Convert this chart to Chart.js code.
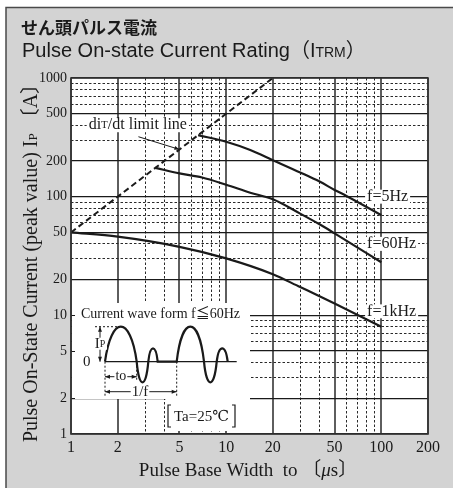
<!DOCTYPE html>
<html>
<head>
<meta charset="utf-8">
<script src="https://cdn.jsdelivr.net/npm/chart.js@4.4.1/dist/chart.umd.min.js"></script>
<style>
html, body { margin: 0; padding: 0; background: #fff; }
#wrap { width: 453px; height: 488px; }
</style>
</head>
<body>
<div id="wrap"><canvas id="c" width="453" height="488"></canvas></div>
<script>
// pulse base width (us) -> peak current (A)
const width5Hz = [6.6, 10, 14.3, 20, 30, 40, 50, 60, 100];
const peak5Hz = [330, 290, 247, 203, 160, 134, 114, 101, 70];
const width60Hz = [3.5, 5, 7, 10, 14.3, 20, 30, 40, 50, 100];
const peak60Hz = [175, 157, 145, 126, 108, 95, 72, 58.5, 49, 28];
const width1kHz = [1, 2, 5, 10, 20, 30, 40, 50, 100];
const peak1kHz = [50, 46, 37.8, 30.2, 22.2, 17.3, 14.5, 12.6, 8.0];
const limitWidth = [1, 20];
const limitPeak = [50, 1000];

const xTicks = [1, 2, 3, 4, 5, 6, 7, 8, 9, 10, 20, 30, 40, 50, 60, 70, 80, 90, 100, 200];
const xLabels = [1, 2, 5, 10, 20, 50, 100, 200];
const yTicks = [1, 2, 3, 4, 5, 6, 7, 8, 9, 10, 20, 30, 40, 50, 60, 70, 80, 90,
                100, 200, 300, 400, 500, 600, 700, 800, 900, 1000];
const yLabels = [1, 2, 5, 10, 20, 50, 100, 200, 500, 1000];

const curveNames = ['f=5Hz', 'f=60Hz', 'f=1kHz'];

const SERIF = "'Liberation Serif', 'DejaVu Serif', 'Noto Sans CJK JP', serif";
const SANS = "'Liberation Sans', Arial, 'Noto Sans CJK JP', sans-serif";
const INK = '#1a1a1a';

function pts(xs, ys) { return xs.map((x, i) => ({ x: x, y: ys[i] })); }

function drawParts(ctx, parts, x, y, align) {
  let total = 0;
  parts.forEach(p => { ctx.font = p[1]; total += ctx.measureText(p[0]).width; });
  let cx = align === 'center' ? x - total / 2 : x;
  ctx.textAlign = 'left';
  parts.forEach(p => {
    ctx.font = p[1];
    ctx.fillText(p[0], cx, y + (p[2] || 0));
    cx += ctx.measureText(p[0]).width;
  });
  return total;
}

function boxedLabel(ctx, parts, x, y) {
  ctx.textBaseline = 'middle';
  let w = 0;
  parts.forEach(p => { ctx.font = p[1]; w += ctx.measureText(p[0]).width; });
  ctx.fillStyle = '#fff';
  ctx.fillRect(x - 2, y - 7, w + 4, 14);
  ctx.fillStyle = INK;
  drawParts(ctx, parts, x, y, 'left');
}

function arrowHead(ctx, x, y, dx, dy) {
  const L = 5, W = 2;
  ctx.beginPath();
  ctx.moveTo(x, y);
  ctx.lineTo(x - dx * L - dy * W, y - dy * L + dx * W);
  ctx.lineTo(x - dx * L + dy * W, y - dy * L - dx * W);
  ctx.closePath();
  ctx.fill();
}

// inset waveform segments: [width px, amplitude fraction of Ip]
const waveSegs = [[31.7, 1], [11.6, -0.59], [9.4, 0.38], [19, 0], [27.3, 1], [12.7, -0.59], [11, 0.38]];

const decor = {
  id: 'decor',
  beforeDraw(chart) {
    const ctx = chart.ctx, a = chart.chartArea;
    ctx.save();
    ctx.fillStyle = '#fff';
    ctx.fillRect(0, 0, chart.width, chart.height);
    ctx.fillStyle = '#d3d3d3';
    ctx.fillRect(6, 7.5, chart.width - 6, chart.height - 7.5);
    ctx.strokeStyle = '#4a4a4a';
    ctx.lineWidth = 1.5;
    ctx.beginPath();
    ctx.moveTo(6, chart.height);
    ctx.lineTo(6, 7.5);
    ctx.lineTo(chart.width, 7.5);
    ctx.stroke();
    ctx.fillStyle = '#fff';
    ctx.fillRect(a.left, a.top, a.right - a.left, a.bottom - a.top);
    ctx.restore();
  },
  beforeDatasetsDraw(chart) {
    const ctx = chart.ctx, a = chart.chartArea;
    const xs = chart.scales.x, ys = chart.scales.y;
    ctx.save();

    // inset panel covers the grid
    ctx.fillStyle = '#fff';
    ctx.fillRect(a.left + 1, a.bottom - 131, 178, 96);
    ctx.fillRect(a.left + 95, a.bottom - 36, 84, 33);

    ctx.strokeStyle = INK;
    ctx.fillStyle = INK;
    ctx.lineWidth = 1;
    [10, 5, 2].forEach(v => {
      const py = Math.round(ys.getPixelForValue(v)) + 0.5;
      ctx.beginPath(); ctx.moveTo(a.left, py); ctx.lineTo(a.left + 4, py); ctx.stroke();
    });

    ctx.textBaseline = 'middle';
    ctx.font = '14px ' + SERIF;
    ctx.textAlign = 'left';
    ctx.fillText('Current wave form f\u226660Hz', a.left + 10, a.bottom - 120);

    const wx = a.left + 34, wy = a.bottom - 72.3, amp = 35;
    // zero line
    ctx.lineWidth = 1.2;
    ctx.beginPath(); ctx.moveTo(wx, wy); ctx.lineTo(wx + 131.7, wy); ctx.stroke();
    ctx.font = '15px ' + SERIF;
    ctx.textAlign = 'center';
    ctx.fillText('0', a.left + 15.7, wy);

    // waveform
    ctx.lineWidth = 2.2;
    ctx.beginPath();
    let cx = wx;
    ctx.moveTo(cx, wy);
    waveSegs.forEach(s => {
      const w = s[0], h = -s[1] * amp * 4 / 3;
      if (s[1] === 0) ctx.lineTo(cx + w, wy);
      else ctx.bezierCurveTo(cx + w * 0.2, wy + h, cx + w * 0.8, wy + h, cx + w, wy);
      cx += w;
    });
    ctx.stroke();

    // Ip dimension
    ctx.lineWidth = 1;
    ctx.setLineDash([2, 2]);
    ctx.beginPath(); ctx.moveTo(wx - 10, wy - amp); ctx.lineTo(wx + 15, wy - amp); ctx.stroke();
    // to / 1/f extension lines
    const toW = waveSegs[0][0];
    const period = waveSegs[0][0] + waveSegs[1][0] + waveSegs[2][0] + waveSegs[3][0];
    ctx.beginPath();
    ctx.moveTo(wx, wy); ctx.lineTo(wx, wy + 34);
    ctx.moveTo(wx + toW, wy + 4); ctx.lineTo(wx + toW, wy + 18);
    ctx.moveTo(wx + period, wy); ctx.lineTo(wx + period, wy + 34);
    ctx.stroke();
    ctx.setLineDash([]);

    const ipX = wx - 5;
    ctx.beginPath(); ctx.moveTo(ipX, wy - amp); ctx.lineTo(ipX, wy); ctx.stroke();
    arrowHead(ctx, ipX, wy - amp, 0, -1);
    arrowHead(ctx, ipX, wy, 0, 1);
    ctx.textBaseline = 'middle';
    ctx.fillStyle = '#fff';
    ctx.fillRect(ipX - 6, wy - 24, 13, 12);
    ctx.fillStyle = INK;
    drawParts(ctx, [['I', '15px ' + SERIF], ['P', '10px ' + SERIF, 1]], ipX, wy - 18, 'center');

    const toY = wy + 15;
    ctx.beginPath(); ctx.moveTo(wx, toY); ctx.lineTo(wx + toW, toY); ctx.stroke();
    arrowHead(ctx, wx, toY, -1, 0);
    arrowHead(ctx, wx + toW, toY, 1, 0);
    ctx.font = '14px ' + SERIF;
    let tw = ctx.measureText('to').width;
    ctx.fillStyle = '#fff';
    ctx.fillRect(wx + toW / 2 - tw / 2 - 1, toY - 6, tw + 2, 12);
    ctx.fillStyle = INK;
    ctx.textAlign = 'center';
    ctx.fillText('to', wx + toW / 2, toY);

    const fY = wy + 30;
    ctx.beginPath(); ctx.moveTo(wx, fY); ctx.lineTo(wx + period, fY); ctx.stroke();
    arrowHead(ctx, wx, fY, -1, 0);
    arrowHead(ctx, wx + period, fY, 1, 0);
    ctx.font = '15px ' + SERIF;
    tw = ctx.measureText('1/f').width;
    ctx.fillStyle = '#fff';
    ctx.fillRect(wx + 35 - tw / 2 - 1, fY - 7, tw + 2, 14);
    ctx.fillStyle = INK;
    ctx.fillText('1/f', wx + 35, fY);

    // ambient note
    const bl = a.left + 97, br = a.left + 164, bt = a.bottom - 29, bb = a.bottom - 7;
    ctx.lineWidth = 1.2;
    ctx.beginPath();
    ctx.moveTo(bl + 3, bt); ctx.lineTo(bl, bt); ctx.lineTo(bl, bb); ctx.lineTo(bl + 3, bb);
    ctx.moveTo(br - 3, bt); ctx.lineTo(br, bt); ctx.lineTo(br, bb); ctx.lineTo(br - 3, bb);
    ctx.stroke();
    ctx.font = '15px ' + SERIF;
    ctx.fillText('Ta=25\u2103', (bl + br) / 2, (bt + bb) / 2 + 1);

    // limit line note
    const nx = xs.getPixelForValue(1.3), ny = ys.getPixelForValue(400);
    boxedLabel(ctx, [['di', '16px ' + SERIF], ['T', '11px ' + SERIF], ['/dt limit line', '16px ' + SERIF]], nx, ny);
    const ax0 = xs.getPixelForValue(2.72), ay0 = ys.getPixelForValue(320);
    const ax1 = xs.getPixelForValue(5), ay1 = ys.getPixelForValue(250);
    ctx.lineWidth = 1;
    ctx.beginPath(); ctx.moveTo(ax0, ay0); ctx.lineTo(ax1, ay1); ctx.stroke();
    const len = Math.hypot(ax1 - ax0, ay1 - ay0);
    arrowHead(ctx, ax1, ay1, (ax1 - ax0) / len, (ay1 - ay0) / len);

    // curve labels
    const lx = xs.getPixelForValue(81);
    [100, 40, 10.8].forEach((v, i) => {
      boxedLabel(ctx, [[curveNames[i], '16px ' + SERIF]], lx, ys.getPixelForValue(v));
    });
    ctx.restore();
  },
  afterDraw(chart) {
    const ctx = chart.ctx, a = chart.chartArea;
    ctx.save();
    ctx.strokeStyle = '#333';
    ctx.lineWidth = 1.6;
    ctx.strokeRect(a.left, a.top, a.right - a.left, a.bottom - a.top);

    ctx.fillStyle = INK;
    ctx.textBaseline = 'middle';
    ctx.textAlign = 'left';
    ctx.font = "bold 17px 'Noto Sans CJK JP', sans-serif";
    ctx.fillText('せん頭パルス電流', 21, 28);
    ctx.textBaseline = 'alphabetic';
    drawParts(ctx, [
      ['Pulse On-state Current Rating', '20px ' + SANS],
      ['\uFF08', "20px 'Noto Sans CJK JP', sans-serif"],
      ['I', '20px ' + SANS],
      ['TRM', '14px ' + SANS],
      ['\uFF09', "20px 'Noto Sans CJK JP', sans-serif"]
    ], 22, 57, 'left');

    // axis titles
    ctx.textBaseline = 'alphabetic';
    drawParts(ctx, [['Pulse Base Width  to \u3014', '19px ' + SERIF], ['\u03BC', 'italic 19px ' + SERIF], ['s\u3015', '19px ' + SERIF]], 248, 476, 'center');

    ctx.translate(30, 258);
    ctx.rotate(-Math.PI / 2);
    drawParts(ctx, [
      ['Pulse On-State Current (peak value) I', '20px ' + SERIF],
      ['P', '13px ' + SERIF],
      [' \u3014A\u3015', '20px ' + SERIF]
    ], 0, 6.5, 'center');
    ctx.restore();
  }
};

const isMajorX = c => c.tick && xLabels.includes(c.tick.value);
const isMajorY = c => c.tick && yLabels.includes(c.tick.value);

const curveStyle = { borderColor: INK, borderWidth: 2.2, pointRadius: 0, fill: false, cubicInterpolationMode: 'monotone' };

new Chart(document.getElementById('c'), {
  type: 'line',
  data: {
    datasets: [
      Object.assign({ label: curveNames[0], data: pts(width5Hz, peak5Hz) }, curveStyle),
      Object.assign({ label: curveNames[1], data: pts(width60Hz, peak60Hz) }, curveStyle),
      Object.assign({ label: curveNames[2], data: pts(width1kHz, peak1kHz) }, curveStyle),
      { label: 'limit', data: pts(limitWidth, limitPeak), borderColor: INK, borderWidth: 2, borderDash: [6, 3.5], pointRadius: 0, fill: false }
    ]
  },
  options: {
    responsive: false,
    animation: false,
    events: [],
    layout: { padding: { top: 78, right: 25, left: 0, bottom: 0 } },
    plugins: { legend: { display: false }, tooltip: { enabled: false } },
    scales: {
      x: {
        type: 'logarithmic', min: 1, max: 200,
        afterBuildTicks: s => { s.ticks = xTicks.map(v => ({ value: v })); },
        afterFit: s => { s.height = 54; },
        ticks: {
          autoSkip: false, maxRotation: 0, padding: 4, color: INK,
          font: { family: SERIF, size: 16 },
          callback: v => xLabels.includes(v) ? String(v) : ''
        },
        grid: {
          drawTicks: false,
          color: c => isMajorX(c) ? '#5e5e5e' : '#2a2a2a',
          lineWidth: c => isMajorX(c) ? 2 : 1
        },
        border: { display: false, dash: c => (c.tick && !isMajorX(c)) ? [2.5, 2] : [] }
      },
      y: {
        type: 'logarithmic', min: 1, max: 1000,
        afterBuildTicks: s => { s.ticks = yTicks.map(v => ({ value: v })); },
        afterFit: s => { s.width = 71; },
        ticks: {
          autoSkip: false, padding: 4, color: INK,
          font: { family: SERIF, size: 14 },
          callback: v => yLabels.includes(v) ? String(v) : ''
        },
        grid: {
          drawTicks: false,
          color: c => isMajorY(c) ? '#1a1a1a' : '#2a2a2a',
          lineWidth: c => isMajorY(c) ? 1.3 : 1
        },
        border: { display: false, dash: c => (c.tick && !isMajorY(c)) ? [2.5, 2] : [] }
      }
    }
  },
  plugins: [decor]
});
</script>
</body>
</html>
